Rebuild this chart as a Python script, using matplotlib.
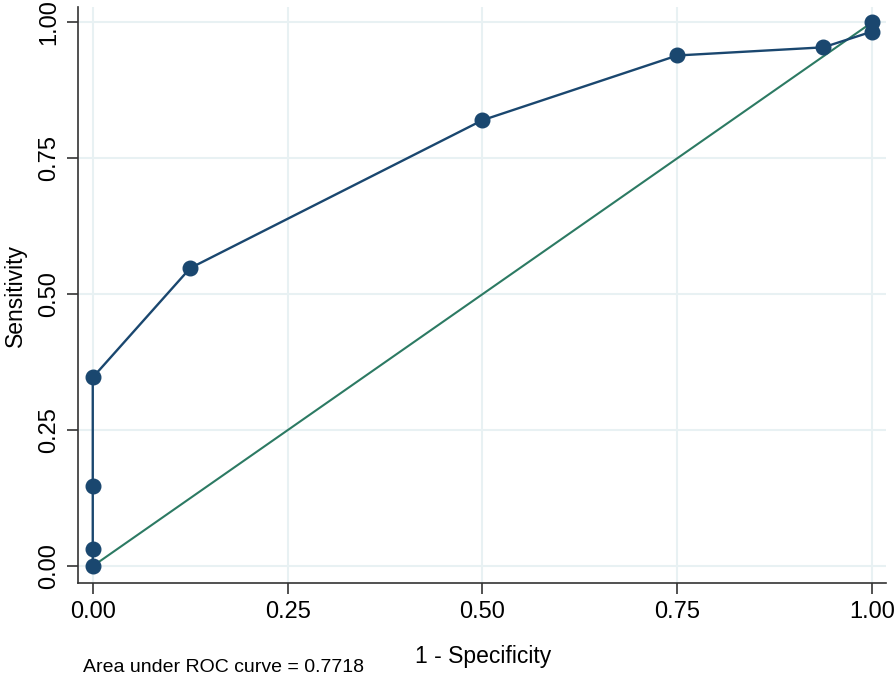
import matplotlib
matplotlib.use('Agg')
import matplotlib.pyplot as plt

plt.rcParams['font.family'] = ['Liberation Sans', 'DejaVu Sans']

# ROC points (1 - specificity, sensitivity)
fpr = [0.0, 0.0, 0.0, 0.0, 0.125, 0.5, 0.75, 0.9375, 1.0, 1.0]
tpr = [0.0, 0.031, 0.147, 0.347, 0.548, 0.82, 0.939, 0.954, 0.983, 1.0]
ref_x = [0.0, 1.0]
ref_y = [0.0, 1.0]
ticks = [0.0, 0.25, 0.5, 0.75, 1.0]
tick_labels = ["0.00", "0.25", "0.50", "0.75", "1.00"]
auc_text = "Area under ROC curve = 0.7718"

NAVY = "#1a476f"
GREEN = "#2c7a63"
GRID = "#e8f1f3"

fig = plt.figure(figsize=(8.96, 6.8), dpi=100)
ax = fig.add_axes([0.087, 0.1426, 0.902, 0.847])

ax.plot(ref_x, ref_y, color=GREEN, lw=1.5, zorder=3)
ax.plot(fpr, tpr, color=NAVY, lw=1.7, marker="o", markersize=10.5,
        markerfacecolor=NAVY, markeredgecolor=NAVY, zorder=4)

ax.set_xlim(-0.019, 1.018)
ax.set_ylim(-0.031, 1.028)
ax.set_xticks(ticks)
ax.set_xticklabels(tick_labels)
ax.set_yticks(ticks)
ax.set_yticklabels(tick_labels, rotation=90, va="center")
ax.tick_params(axis="both", labelsize=17, length=8, width=1.2,
               color="#333333", pad=5)

ax.grid(True, color=GRID, lw=1.5)
ax.set_axisbelow(True)
for side in ["top", "right"]:
    ax.spines[side].set_visible(False)
for side in ["left", "bottom"]:
    ax.spines[side].set_linewidth(1.2)
    ax.spines[side].set_color("#333333")

fig.text(0.539, 0.034, "1 - Specificity", ha="center", va="center", fontsize=16.5)
fig.text(0.017, 0.566, "Sensitivity", ha="center", va="center",
         rotation=90, fontsize=16.5)
fig.text(0.093, 0.018, auc_text, ha="left", va="center", fontsize=14)

plt.savefig("out.png", dpi=100)
